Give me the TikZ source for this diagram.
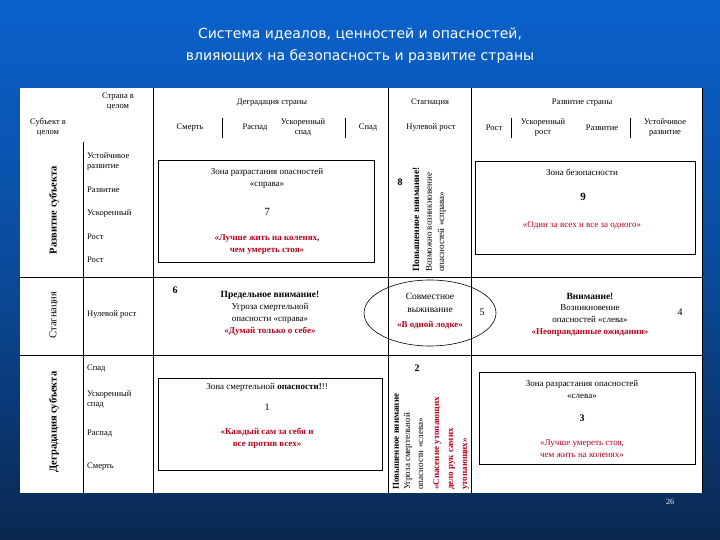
\documentclass[tikz,border=0pt]{standalone}
\usepackage{fontspec}
\setmainfont{Liberation Serif}
\newfontfamily\titlefont{DejaVu Sans}
\usetikzlibrary{shapes.geometric}
\definecolor{topblue}{HTML}{0A62CC}
\definecolor{botblue}{HTML}{0A2850}
\definecolor{redtxt}{HTML}{B8001E}
\tikzset{
 txt/.style={inner sep=0pt,align=center,font=\fontsize{8.5}{10}\selectfont},
 rtxt/.style={txt,text=redtxt},
 lbl/.style={inner sep=0pt,anchor=west,font=\fontsize{8.5}{10}\selectfont,align=left},
 rot/.style={inner sep=0pt,rotate=90,anchor=west,font=\fontsize{9}{10}\selectfont},
 grid/.style={line width=0.9pt},
 zone/.style={draw,line width=0.8pt}
}
\begin{document}
\begin{tikzpicture}[x=1pt,y=-1pt]
\useasboundingbox (0,0) rectangle (720,540);
\shade[top color=topblue,bottom color=botblue,middle color=topblue!60!botblue] (0,0) rectangle (720,540);
\node[text=white,align=center,font=\titlefont\fontsize{14}{22}\selectfont] (title) at (360,46) {Система идеалов, ценностей и опасностей,\\влияющих на безопасность и развитие страны};
\fill[white] (20,88) rectangle (702,493);
% grid
\draw[grid] (702,88) -- (702,493);
\draw[grid] (153,88) -- (153,493);
\draw[grid] (388,88) -- (388,493);
\draw[grid] (471,88) -- (471,493);
\draw[grid] (83,142) -- (83,493);
\draw[grid] (20,277) -- (702,277);
\draw[grid] (20,355) -- (702,355);
\draw[grid] (222,118) -- (222,138);
\draw[grid] (345,118) -- (345,138);
\draw[grid] (511,118) -- (511,138);
\draw[grid] (630,118) -- (630,138);
% headers
\node[txt] (h1) at (118,102) {Страна в\\целом};
\node[txt] (h2) at (48,127) {Субъект в\\целом};
\node[txt] (h3) at (272,103) {Деградация страны};
\node[txt] (h4) at (190,128) {Смерть};
\node[txt] (h5) at (255,128) {Распад};
\node[txt] (h6) at (303,127) {Ускоренный\\спад};
\node[txt] (h7) at (368,128) {Спад};
\node[txt] (h8) at (430,103) {Стагнация};
\node[txt] (h9) at (431,128) {Нулевой рост};
\node[txt] (h10) at (582,103) {Развитие страны};
\node[txt] (h11) at (494,128) {Рост};
\node[txt] (h12) at (543,127) {Ускоренный\\рост};
\node[txt] (h13) at (602,128) {Развитие};
\node[txt] (h14) at (665,127) {Устойчивое\\развитие};
% left labels
\node[txt,rotate=90,font=\fontsize{10.5}{12}\selectfont\bfseries] (s1) at (54,210) {Развитие субъекта};
\node[txt,rotate=90,font=\fontsize{10.5}{12}\selectfont] (s2) at (54,315) {Стагнация};
\node[txt,rotate=90,font=\fontsize{10.5}{12}\selectfont\bfseries] (s3) at (54,422) {Деградация субъекта};
\node[lbl] (l1) at (87,161) {Устойчивое\\развитие};
\node[lbl] (l2) at (87,190) {Развитие};
\node[lbl] (l3) at (87,213) {Ускоренный};
\node[lbl] (l4) at (87,237) {Рост};
\node[lbl] (l5) at (87,260) {Рост};
\node[lbl] (l6) at (87,315) {Нулевой рост};
\node[lbl] (l7) at (87,369) {Спад};
\node[lbl] (l8) at (87,399) {Ускоренный\\спад};
\node[lbl] (l9) at (87,434) {Распад};
\node[lbl] (l10) at (87,467) {Смерть};
% zone 7
\node[zone,minimum width=216,minimum height=102] (z7) at (266,211) {};
\node[txt,font=\fontsize{9}{12}\selectfont] (z7a) at (267,178) {Зона разрастания опасностей\\«справа»};
\node[txt,font=\fontsize{11}{12}\selectfont] (z7b) at (267,212) {7};
\node[rtxt,font=\fontsize{9}{12}\selectfont\bfseries] (z7c) at (267,245) {«Лучше жить на коленях,\\чем умереть стоя»};
% zone 9
\node[zone,minimum width=220,minimum height=93] (z9) at (585,208) {};
\node[txt,font=\fontsize{9}{11}\selectfont] (z9a) at (582,172) {Зона безопасности};
\node[txt,font=\fontsize{11}{12}\selectfont\bfseries] (z9b) at (583,197) {9};
\node[rtxt,font=\fontsize{9}{11}\selectfont] (z9c) at (582,225) {«Один за всех и все за одного»};
% column 8
\node[txt,font=\fontsize{10}{11}\selectfont\bfseries] (n8) at (400,182) {8};
\node[rot,font=\fontsize{9.5}{10}\selectfont\bfseries] (c8a) at (416,272) {Повышенное внимание!};
\node[rot] (c8b) at (429,272) {Возможно возникновение};
\node[rot] (c8c) at (442,272) {опасностей «справа»};
% stagnation row
\node[txt,font=\fontsize{10}{11}\selectfont\bfseries] (n6) at (175,290) {6};
\node[txt,font=\fontsize{9.5}{11}\selectfont\bfseries] (p1) at (270,295) {Предельное внимание!};
\node[txt,font=\fontsize{9}{12}\selectfont] (p2) at (270,313) {Угроза смертельной\\опасности «справа»};
\node[rtxt,font=\fontsize{9}{11}\selectfont\bfseries] (p3) at (270,331) {«Думай только о себе»};
\node[draw,ellipse,minimum width=132,minimum height=66,line width=0.6pt] (el) at (430,313) {};
\node[txt,font=\fontsize{9.5}{13}\selectfont] (e1) at (430,303) {Совместное\\выживание};
\node[rtxt,font=\fontsize{9}{11}\selectfont\bfseries] (e2) at (430,325) {«В одной лодке»};
\node[txt,font=\fontsize{10}{11}\selectfont] (n5) at (482,312) {5};
\node[txt,font=\fontsize{9.5}{11}\selectfont\bfseries] (v1) at (590,296) {Внимание!};
\node[txt,font=\fontsize{9}{12}\selectfont] (v2) at (590,314) {Возникновение\\опасностей «слева»};
\node[rtxt,font=\fontsize{9}{11}\selectfont\bfseries] (v3) at (590,333) {«Неоправданные ожидания»};
\node[txt,font=\fontsize{10}{11}\selectfont] (n4) at (680,312) {4};
% zone 1
\node[zone,minimum width=224,minimum height=92] (z1) at (270,424) {};
\node[txt,font=\fontsize{9}{11}\selectfont] (z1a) at (267,387) {Зона смертельной \textbf{опасности!}!!};
\node[txt,font=\fontsize{10}{11}\selectfont] (z1b) at (267,407) {1};
\node[rtxt,font=\fontsize{9}{12}\selectfont\bfseries] (z1c) at (267,438) {«Каждый сам за себя и\\все против всех»};
% column 2
\node[txt,font=\fontsize{10}{11}\selectfont\bfseries] (n2) at (417,368) {2};
\node[rot,font=\fontsize{9}{10}\selectfont\bfseries] (c2a) at (396,490) {Повышенное внимание};
\node[rot] (c2b) at (408,490) {Угроза смертельной};
\node[rot] (c2c) at (421,490) {опасности «слева»};
\node[rot,text=redtxt,font=\fontsize{9}{10}\selectfont\bfseries] (c2d) at (437,490) {«Спасение утопающих};
\node[rot,text=redtxt,font=\fontsize{9}{10}\selectfont\bfseries] (c2e) at (452,490) {дело рук самих};
\node[rot,text=redtxt,font=\fontsize{9}{10}\selectfont\bfseries] (c2f) at (466,490) {утопающих»};
% zone 3
\node[zone,minimum width=216,minimum height=92] (z3) at (587,418) {};
\node[txt,font=\fontsize{9}{12}\selectfont] (z3a) at (582,389) {Зона разрастания опасностей\\«слева»};
\node[txt,font=\fontsize{10}{11}\selectfont\bfseries] (z3b) at (582,418) {3};
\node[rtxt,font=\fontsize{9}{12}\selectfont] (z3c) at (582,449) {«Лучше умереть стоя,\\чем жить на коленях»};
\node[txt,text=white,font=\fontsize{8}{10}\selectfont] (pg) at (670,502) {26};
\end{tikzpicture}
\end{document}
